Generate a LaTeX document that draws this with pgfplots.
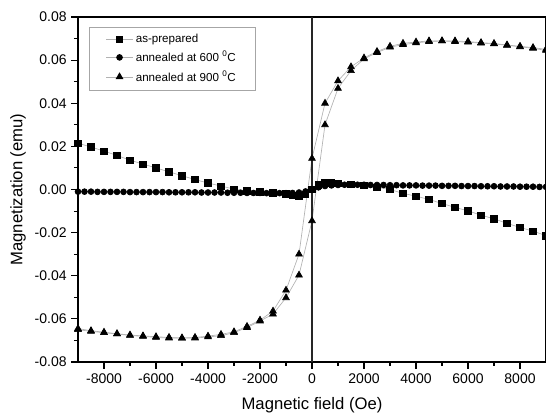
\documentclass[border=0pt]{standalone}
\usepackage{fontspec}
\setmainfont{Liberation Sans}
\usepackage{pgfplots}
\pgfplotsset{compat=1.18}

\begin{document}
\begin{tikzpicture}
\begin{axis}[
    at={(0,0)}, anchor=south west,
    scale only axis, width=351pt, height=258.75pt,
    xmin=-9000, xmax=9000, ymin=-0.08, ymax=0.08,
    xtick={-8000,-6000,...,8000},
    ytick={-0.08,-0.06,...,0.081},
    minor x tick num=1, minor y tick num=1,
    tick align=outside, tick pos=left,
    major tick length=5pt, minor tick length=3pt,
    axis line style={line width=0.9pt},
    every tick/.style={black, line width=0.8pt},
    scaled y ticks=false,
    y tick label style={/pgf/number format/.cd, fixed, fixed zerofill, precision=2, /tikz/.cd},
    x tick label style={/pgf/number format/1000 sep={}},
    /pgf/number format/assume math mode=true,
    tick label style={font=\fontsize{10.5}{12}\selectfont},
    label style={font=\fontsize{12.5}{14}\selectfont},
    xlabel={Magnetic field (Oe)},
    ylabel={Magnetization (emu)},
    xlabel style={at={(axis description cs:0.5,-0.124)}, anchor=center},
    ylabel style={at={(axis description cs:-0.128,0.5)}, anchor=center},
    legend style={at={(axis description cs:0.0235,0.971)}, anchor=north west,
        draw=gray!70, font=\fontsize{8.7}{10}\selectfont, row sep=1pt,
        inner xsep=12.5pt, inner ysep=3pt},
    legend cell align=left,
    legend image code/.code={\draw[#1, mark repeat=2, mark phase=2]
        plot coordinates {(0cm,0cm) (0.35cm,0cm) (0.7cm,0cm)};},
    every axis plot/.append style={color=gray!60, line width=0.5pt,
        mark options={black, fill=black, solid}},
]

% as-prepared
\addplot[mark=square*, mark size=2.4pt] coordinates {
(-9000,0.0215) (-8500,0.0197) (-8000,0.0178) (-7500,0.0158) (-7000,0.0136)
(-6500,0.0118) (-6000,0.0100) (-5500,0.0082) (-5000,0.0064) (-4500,0.0046)
(-4000,0.0030) (-3500,0.0016) (-3000,0.0002) (-2500,-0.0006) (-2000,-0.0010)
(-1500,-0.0015) (-1000,-0.0020) (-750,-0.0026) (-500,-0.0030) (-250,-0.0022)
(0,0.0000) (250,0.0022) (500,0.0030) (750,0.0031) (1000,0.0029)
(1500,0.0025) (2000,0.0019) (2500,0.0010) (3000,0.0000) (3500,-0.0018)
(4000,-0.0031) (4500,-0.0046) (5000,-0.0065) (5500,-0.0083) (6000,-0.0099)
(6500,-0.0119) (7000,-0.0136) (7500,-0.0157) (8000,-0.0176) (8500,-0.0193)
(9000,-0.0214)
};
\addlegendentry{as-prepared}

% annealed at 600 C
\addplot[mark=*, mark size=2.2pt] coordinates {
(-9000,-0.0010) (-8750,-0.0010) (-8500,-0.0010) (-8250,-0.0011) (-8000,-0.0011)
(-7750,-0.0011) (-7500,-0.0011) (-7250,-0.0011) (-7000,-0.0012) (-6750,-0.0012)
(-6500,-0.0012) (-6250,-0.0012) (-6000,-0.0012) (-5750,-0.0012) (-5500,-0.0013)
(-5250,-0.0013) (-5000,-0.0013) (-4750,-0.0013) (-4500,-0.0013) (-4250,-0.0014)
(-4000,-0.0014) (-3750,-0.0014) (-3500,-0.0014) (-3250,-0.0015) (-3000,-0.0015)
(-2750,-0.0015) (-2500,-0.0016) (-2250,-0.0016) (-2000,-0.0016) (-1750,-0.0017)
(-1500,-0.0017) (-1250,-0.0017) (-1000,-0.0017) (-750,-0.0016) (-500,-0.0014)
(-250,-0.0009) (0,0.0000) (250,0.0010) (500,0.0016) (750,0.0019)
(1000,0.0021) (1250,0.0022) (1500,0.0022) (1750,0.0022) (2000,0.0022)
(2250,0.0021) (2500,0.0021) (2750,0.0021) (3000,0.0020) (3250,0.0020)
(3500,0.0019) (3750,0.0019) (4000,0.0019) (4250,0.0018) (4500,0.0018)
(4750,0.0018) (5000,0.0017) (5250,0.0017) (5500,0.0017) (5750,0.0016)
(6000,0.0016) (6250,0.0016) (6500,0.0015) (6750,0.0015) (7000,0.0015)
(7250,0.0014) (7500,0.0014) (7750,0.0014) (8000,0.0013) (8250,0.0013)
(8500,0.0013) (8750,0.0012) (9000,0.0012)
};
\addlegendentry{annealed at 600 \textsuperscript{0}C}

% annealed at 900 C, descending branch
\addplot[mark=triangle*, mark size=2.9pt] coordinates {
(9000,0.0645) (8500,0.0655) (8000,0.0662) (7500,0.0669) (7000,0.0675)
(6500,0.0679) (6000,0.0683) (5500,0.0686) (5000,0.0689) (4500,0.0689)
(4000,0.0684) (3500,0.0678) (3000,0.0664) (2500,0.0640) (2000,0.0610)
(1500,0.0569) (1000,0.0504) (500,0.0400) (0,0.0144) (-500,-0.0300)
(-1000,-0.0467) (-1500,-0.0564) (-2000,-0.0606) (-2500,-0.0635) (-3000,-0.0660)
(-3500,-0.0672) (-4000,-0.0680) (-4500,-0.0686) (-5000,-0.0689) (-5500,-0.0689)
(-6000,-0.0686) (-6500,-0.0681) (-7000,-0.0677) (-7500,-0.0670) (-8000,-0.0664)
(-8500,-0.0658) (-9000,-0.0650)
};
\addlegendentry{annealed at 900 \textsuperscript{0}C}

% annealed at 900 C, ascending branch
\addplot[mark=triangle*, mark size=2.9pt, forget plot] coordinates {
(-9000,-0.0645) (-8500,-0.0655) (-8000,-0.0662) (-7500,-0.0669) (-7000,-0.0675)
(-6500,-0.0679) (-6000,-0.0683) (-5500,-0.0686) (-5000,-0.0689) (-4500,-0.0689)
(-4000,-0.0684) (-3500,-0.0678) (-3000,-0.0664) (-2500,-0.0640) (-2000,-0.0610)
(-1500,-0.0578) (-1000,-0.0502) (-500,-0.0397) (0,-0.0145) (500,0.0300)
(1000,0.0469) (1500,0.0551) (2000,0.0606) (2500,0.0635) (3000,0.0660)
(3500,0.0672) (4000,0.0680) (4500,0.0686) (5000,0.0689) (5500,0.0689)
(6000,0.0686) (6500,0.0681) (7000,0.0677) (7500,0.0670) (8000,0.0664)
(8500,0.0658) (9000,0.0650)
};

\draw[black!85, line width=0.9pt] (axis cs:0,-0.08) -- (axis cs:0,0.08);
\end{axis}
\pgfresetboundingbox
\path[use as bounding box] (-58.5pt,-40.5pt) rectangle (351pt,271.5pt);
\end{tikzpicture}
\end{document}
